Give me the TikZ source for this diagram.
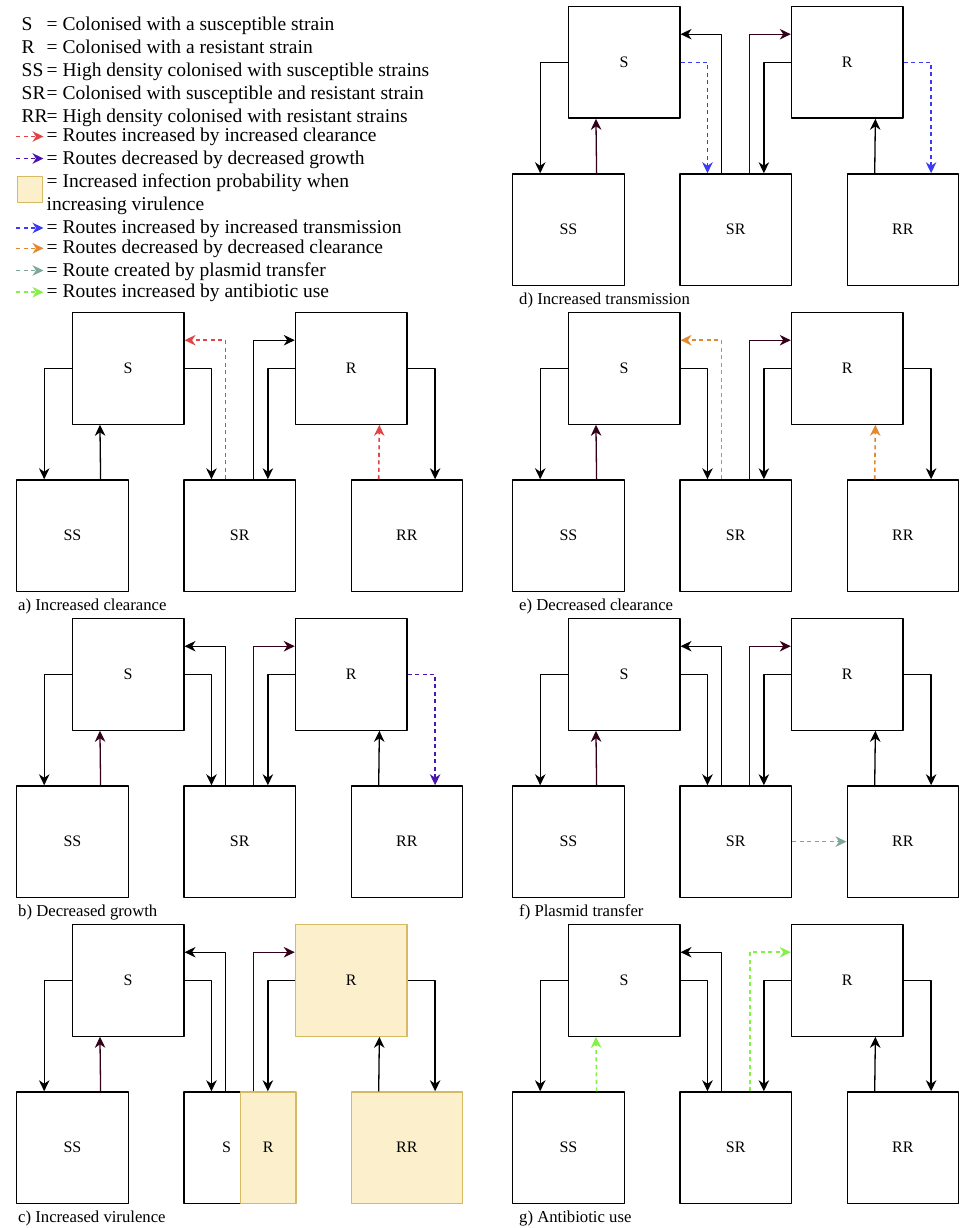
\documentclass[tikz,border=0pt]{standalone}
\usepackage{fontspec}
\setmainfont{Liberation Serif}
\usetikzlibrary{arrows.meta}
\usetikzlibrary{calc}

\definecolor{clrred}{HTML}{E04444}
\definecolor{grwpurple}{HTML}{4A14AE}
\definecolor{trnblue}{HTML}{3B3BF5}
\definecolor{dclorange}{HTML}{E0892E}
\definecolor{plsgrey}{HTML}{7DA898}
\definecolor{abxgreen}{HTML}{86F048}
\definecolor{virfill}{HTML}{FBF0CB}
\definecolor{virdraw}{HTML}{D6BA62}
\definecolor{darkroute}{HTML}{33001A}

\begin{document}
\begin{tikzpicture}[line join=round,>={Stealth[length=11pt,width=10.5pt,inset=3.5pt]},x=1pt,y=-1pt,
  box/.style={draw=black,line width=1.3pt,fill=white,minimum size=111.5pt,inner sep=0pt,anchor=north west,font=\fontsize{16}{19}\selectfont},
  vbox/.style={box,draw=virdraw,fill=virfill},
  key/.style={anchor=base west,inner sep=0pt,font=\fontsize{19.5}{22.4}\selectfont},
  caption/.style={anchor=base west,inner sep=0pt,font=\fontsize{16.7}{20}\selectfont},
  route/.style={->,line width=1.3pt,draw=black},
  routem/.style={route,draw=darkroute},
  dashroute/.style={route,line width=1.6pt,dash pattern=on 4pt off 3.5pt},
  clearup/.style={dashroute,draw=clrred},
  growdown/.style={dashroute,draw=grwpurple},
  transup/.style={dashroute,draw=trnblue},
  cleardown/.style={dashroute,draw=dclorange},
  plasmid/.style={dashroute,draw=plsgrey},
  antibio/.style={dashroute,draw=abxgreen}]
\useasboundingbox (0,0) rectangle (961,1228);
% legend
\node[key] (kS) at (21.5,30.7) {S};
\node[key] (tS) at (46.5,30.7) {= Colonised with a susceptible strain};
\node[key] (kR) at (21.5,53.3) {R};
\node[key] (tR) at (46.5,53.3) {= Colonised with a resistant strain};
\node[key] (kSS) at (21.5,76.7) {SS};
\node[key] (tSS) at (46.5,76.7) {= High density colonised with susceptible strains};
\node[key] (kSR) at (21.5,100) {SR};
\node[key] (tSR) at (46.5,100) {= Colonised with susceptible and resistant strain};
\node[key] (kRR) at (21.5,122.7) {RR};
\node[key] (tRR) at (46.5,122.7) {= High density colonised with resistant strains};
\coordinate (kclr) at (16,136.5);
\draw[clearup] (kclr) -- ++(27.5,0);
\node[key] (tclr) at (46.5,141.7) {= Routes increased by increased clearance};
\coordinate (kgrw) at (16,158.5);
\draw[growdown] (kgrw) -- ++(27.5,0);
\node[key] (tgrw) at (46.5,164.3) {= Routes decreased by decreased growth};
\node[vbox,minimum size=25.5pt] (kvir) at (16.5,176) {};
\node[key] (tvir) at (46.5,187.7) {= Increased infection probability when};
\node[key] (tvir2) at (46.5,210) {increasing virulence};
\coordinate (ktrn) at (16,228);
\draw[transup] (ktrn) -- ++(27.5,0);
\node[key] (ttrn) at (46.5,233.3) {= Routes increased by increased transmission};
\coordinate (kdcl) at (16,248.3);
\draw[cleardown] (kdcl) -- ++(27.5,0);
\node[key] (tdcl) at (46.5,253.3) {= Routes decreased by decreased clearance};
\coordinate (kpls) at (16,270.5);
\draw[plasmid] (kpls) -- ++(27.5,0);
\node[key] (tpls) at (46.5,276) {= Route created by plasmid transfer};
\coordinate (kabx) at (16,292.2);
\draw[antibio] (kabx) -- ++(27.5,0);
\node[key] (tabx) at (46.5,297.7) {= Routes increased by antibiotic use};
% panel boxes
\foreach \p/\ox/\oy/\cx/\ptitle/\rb/\srl in {a/16/312/18/{a) Increased clearance}/box/SR,
    b/16/618/18/{b) Decreased growth}/box/SR,
    c/16/924/18/{c) Increased virulence}/vbox/{},
    d/512/6/519/{d) Increased transmission}/box/SR,
    e/512/312/519/{e) Decreased clearance}/box/SR,
    f/512/618/519/{f) Plasmid transfer}/box/SR,
    g/512/924/519/{g) Antibiotic use}/box/SR}{
  \node[box] (\p SS) at (\ox,\oy+167.25) {SS};
  \node[box] (\p S) at (\ox+55.75,\oy) {S};
  \node[box] (\p SR) at (\ox+167.25,\oy+167.25) {\srl};
  \node[\rb] (\p R) at (\ox+278.75,\oy) {R};
  \node[\rb] (\p RR) at (\ox+334.5,\oy+167.25) {RR};
  \node[caption] (\p cap) at (\cx,\oy+298.5) {\ptitle};
}
% split SR box in c
\node[vbox,minimum width=55.75pt,minimum height=111.5pt] (cSRr) at (cSR.north) {R};
\node[inner sep=0pt,font=\fontsize{16}{19}\selectfont] (cSRs) at ($(cSR.west)!.77!(cSR.center)$) {S};
% routes
\foreach \p/\ua/\ub/\uc/\ud/\ue/\ug in {a/route/route/clearup/route/route/clearup,
    b/routem/route/route/routem/growdown/route,
    c/routem/route/route/routem/route/route,
    d/routem/transup/route/routem/transup/route,
    e/routem/route/cleardown/routem/route/cleardown,
    f/routem/route/route/routem/route/route,
    g/antibio/route/route/antibio/route/route}{
  \draw[route] (\p S.west) -| ($(\p SS.north west)!.25!(\p SS.north east)$);
  \draw[\ua] ($(\p SS.north west)!.75!(\p SS.north east)$) -- ($(\p S.south west)!.25!(\p S.south east)$);
  \draw[\ub] (\p S.east) -| ($(\p SR.north west)!.25!(\p SR.north east)$);
  \draw[\uc] ($(\p SR.north west)!.375!(\p SR.north east)$) |- ($(\p S.north east)!.25!(\p S.south east)$);
  \draw[\ud] ($(\p SR.north west)!.625!(\p SR.north east)$) |- ($(\p R.north west)!.25!(\p R.south west)$);
  \draw[route] (\p R.west) -| ($(\p SR.north west)!.75!(\p SR.north east)$);
  \draw[\ue] (\p R.east) -| ($(\p RR.north west)!.75!(\p RR.north east)$);
  \draw[\ug] ($(\p RR.north west)!.25!(\p RR.north east)$) -- ($(\p R.south west)!.75!(\p R.south east)$);
}
\draw[plasmid] (fSR.east) -- (fRR.west);
\end{tikzpicture}
\end{document}
